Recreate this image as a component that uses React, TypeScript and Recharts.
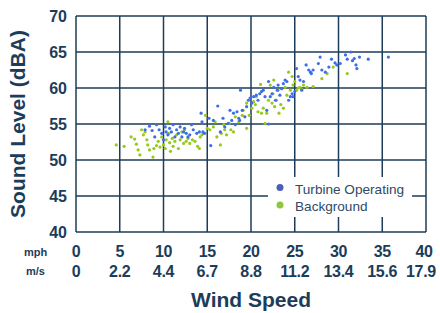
import { ScatterChart, Scatter, XAxis, YAxis, CartesianGrid, Legend } from "recharts"

// [mph, dBA]
const turbineOperating: [number, number][] = [
    [7.9, 54.2], [8.4, 54.7], [8.7, 54.1], [9.0, 53.2], [9.2, 54.9], [9.5, 54.2], [9.8, 53.7], [10.0, 52.8],
    [10.2, 54.6], [10.3, 53.9], [10.5, 53.5], [10.7, 54.4], [10.9, 53.9], [11.1, 54.9], [11.3, 53.2], [11.5, 54.2],
    [11.7, 53.7], [11.9, 54.6], [12.1, 53.2], [12.3, 53.9], [12.4, 54.4], [12.6, 53.7], [12.8, 53.2], [13.0, 53.5],
    [13.2, 54.9], [13.4, 54.2], [13.8, 53.7], [14.1, 53.9], [14.3, 56.5], [14.4, 55.3], [14.5, 53.9], [14.7, 53.7],
    [15.2, 55.8], [15.4, 52.0], [15.7, 55.5], [16.2, 57.5], [16.5, 53.9], [16.8, 55.8], [17.0, 54.6], [17.4, 55.1],
    [17.6, 56.9], [17.8, 55.5], [18.0, 56.5], [18.2, 54.9], [18.4, 56.7], [18.6, 55.8], [18.7, 55.5], [18.8, 59.7],
    [19.0, 56.9], [19.3, 56.0], [19.5, 57.4], [19.7, 58.3], [19.9, 58.6], [20.1, 57.9], [20.3, 58.8], [20.6, 59.0],
    [20.8, 58.3], [21.0, 59.2], [21.2, 59.5], [21.4, 59.7], [21.6, 58.8], [21.8, 56.9], [22.0, 60.9], [22.0, 55.0],
    [22.2, 58.8], [22.4, 59.2], [22.6, 60.1], [22.8, 58.3], [23.0, 59.7], [23.1, 60.4], [23.3, 59.0], [23.5, 59.9],
    [23.7, 60.6], [23.9, 61.1], [24.1, 60.9], [24.3, 58.3], [24.5, 58.8], [24.7, 59.2], [24.8, 58.8], [25.0, 59.5],
    [25.2, 62.7], [25.4, 61.6], [25.6, 61.1], [25.8, 59.7], [26.0, 60.9], [26.3, 63.2], [26.6, 62.5], [26.8, 62.2],
    [26.9, 62.0], [27.1, 62.5], [27.7, 63.4], [27.9, 64.3], [28.1, 62.5], [28.5, 62.2], [28.9, 62.9], [29.2, 64.0],
    [29.6, 63.5], [29.8, 63.2], [30.2, 63.4], [30.8, 64.6], [31.0, 64.0], [31.4, 65.0], [31.6, 63.8], [31.8, 64.1],
    [32.0, 63.2], [32.1, 62.7], [32.4, 64.3], [33.4, 64.0], [35.7, 64.3],
]

const background: [number, number][] = [
    [4.6, 52.1], [5.5, 51.9], [6.3, 53.2], [6.7, 52.9], [6.9, 52.2], [7.1, 51.4], [7.3, 50.7], [7.5, 54.2],
    [7.7, 53.5], [7.9, 53.9], [8.1, 52.8], [8.2, 52.1], [8.4, 51.4], [8.8, 50.4], [8.9, 51.6], [9.2, 52.0],
    [9.4, 52.6], [9.6, 51.8], [9.8, 53.2], [10.0, 52.1], [10.2, 51.6], [10.3, 52.8], [10.5, 55.3], [10.6, 53.7],
    [10.7, 52.4], [10.8, 51.2], [11.0, 53.0], [11.1, 51.9], [11.3, 52.6], [11.5, 53.5], [11.7, 51.6], [11.9, 52.8],
    [12.1, 53.9], [12.3, 52.3], [12.4, 54.2], [12.6, 52.6], [12.8, 53.0], [13.0, 52.3], [13.3, 52.8], [13.6, 52.6],
    [13.9, 51.9], [14.1, 51.6], [14.2, 53.2], [14.4, 53.5], [14.6, 53.7], [14.8, 56.2], [15.0, 54.4], [15.3, 54.2],
    [15.7, 54.6], [15.9, 55.3], [16.1, 53.2], [16.5, 52.1], [16.6, 53.7], [16.9, 54.9], [17.0, 54.2], [17.2, 53.5],
    [17.5, 55.1], [17.7, 54.2], [18.0, 53.9], [18.2, 56.0], [18.6, 55.3], [19.0, 56.2], [19.1, 56.9], [19.5, 54.4],
    [19.5, 57.9], [19.8, 56.2], [20.1, 57.2], [20.3, 58.1], [20.5, 57.7], [20.6, 58.8], [20.8, 56.7], [21.1, 60.5],
    [21.2, 56.5], [21.4, 57.2], [21.6, 55.1], [21.8, 56.5], [22.0, 58.3], [22.2, 60.4], [22.4, 57.9], [22.5, 59.2],
    [22.6, 61.1], [22.7, 57.4], [22.9, 58.3], [23.1, 59.7], [23.2, 56.5], [23.4, 57.7], [23.7, 57.2], [23.9, 60.1],
    [24.1, 59.0], [24.3, 62.2], [24.5, 59.7], [24.7, 61.6], [24.8, 60.4], [25.0, 60.9], [25.2, 59.7], [25.4, 60.0],
    [25.6, 60.1], [25.8, 59.8], [26.0, 60.4], [26.4, 60.1], [27.1, 60.2], [28.1, 61.3], [28.7, 62.0], [29.4, 62.9],
    [31.0, 62.0],
]

const mphTicks = [0, 5, 10, 15, 20, 25, 30, 35, 40]
const msLabels = ["0", "2.2", "4.4", "6.7", "8.8", "11.2", "13.4", "15.6", "17.9"]
const dbTicks = [40, 45, 50, 55, 60, 65, 70]

const navy = "#1c3d5a"
const font = "'Liberation Sans', Arial, sans-serif"

const toPoints = (rows: [number, number][]) => rows.map(([x, y]) => ({ x, y }))

function XTick({ x, y, payload }: any) {
    const i = mphTicks.indexOf(payload.value)
    const last = i === mphTicks.length - 1
    return (
        <g fontSize={16} fontWeight="bold" fill={navy} fontFamily={font} letterSpacing={-0.3}>
            <text x={x} y={y + 17} dx={last ? -2 : 0} textAnchor="middle">
                {payload.value}
            </text>
            <text x={x} y={y + 37} dx={last ? -5 : 0} textAnchor="middle">
                {msLabels[i]}
            </text>
        </g>
    )
}

const dot = (color: string) => (props: any) => <circle cx={props.cx} cy={props.cy} r={1.6} fill={color} />

export default function App() {
    return (
        <div style={{ position: "absolute", left: 0, top: 0, width: 440, height: 313, background: "#fff" }}>
            <ScatterChart width={440} height={313} margin={{ top: 16, right: 14, bottom: 0, left: 0 }}>
                <CartesianGrid stroke={navy} strokeWidth={1.5} />
                <XAxis
                    type="number"
                    dataKey="x"
                    domain={[0, 40]}
                    ticks={mphTicks}
                    height={81}
                    tickLine={false}
                    axisLine={false}
                    tick={<XTick />}
                    interval={0}
                    label={{
                        content: (p: any) => {
                            const vb = p.viewBox
                            return (
                                <g fontFamily={font} fontWeight="bold" fill={navy}>
                                    <text x={vb.x + vb.width / 2} y={307} textAnchor="middle" fontSize={21}>
                                        Wind Speed
                                    </text>
                                    <text x={35.5} y={256} textAnchor="middle" fontSize={11}>mph</text>
                                    <text x={35.5} y={275} textAnchor="middle" fontSize={11}>m/s</text>
                                </g>
                            )
                        },
                    }}
                />
                <YAxis
                    type="number"
                    dataKey="y"
                    domain={[40, 70]}
                    ticks={dbTicks}
                    width={76}
                    tickLine={false}
                    axisLine={false}
                    tickMargin={3}
                    interval={0}
                    tick={{ fontSize: 16, fontWeight: "bold", fill: navy, fontFamily: font }}
                    label={{
                        content: (p: any) => {
                            const vb = p.viewBox
                            const cy = vb.y + vb.height / 2
                            return (
                                <text
                                    transform={`translate(24.5, ${cy}) rotate(-90)`}
                                    textAnchor="middle"
                                    fontSize={21}
                                    fontWeight="bold"
                                    fill={navy}
                                    fontFamily={font}
                                >
                                    Sound Level (dBA)
                                </text>
                            )
                        },
                    }}
                />
                <Legend
                    layout="vertical"
                    align="center"
                    verticalAlign="middle"
                    wrapperStyle={{ left: 268, top: 177, width: 144, height: 40, background: "#fff" }}
                    content={() => (
                        <svg width={144} height={40} style={{ display: "block" }}>
                            <circle cx={12} cy={10.5} r={3.5} fill="#4a5fb8" />
                            <text x={27} y={16.5} fontSize={13.6} fill="#2e4a66" fontFamily={font}>Turbine Operating</text>
                            <circle cx={12} cy={28} r={3.5} fill="#8dc63f" />
                            <text x={27} y={34} fontSize={13.6} fill="#2e4a66" fontFamily={font}>Background</text>
                        </svg>
                    )}
                />
                <Scatter name="Background" data={toPoints(background)} shape={dot("#96c91c")} isAnimationActive={false} />
                <Scatter name="Turbine Operating" data={toPoints(turbineOperating)} shape={dot("#3d6de8")} isAnimationActive={false} />
            </ScatterChart>
        </div>
    )
}
